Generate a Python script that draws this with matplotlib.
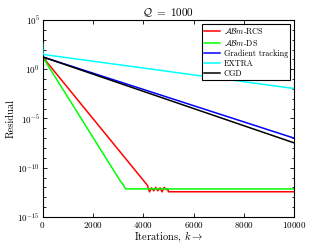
import matplotlib
matplotlib.use("Agg")
import matplotlib.pyplot as plt
import numpy as np

plt.rcParams['font.family'] = 'serif'
plt.rcParams['font.serif'] = ['cmr10']
plt.rcParams['mathtext.fontset'] = 'cm'
plt.rcParams['axes.formatter.use_mathtext'] = True
plt.rcParams['axes.unicode_minus'] = False

# Data (iterations, residual)
rcs_k = [0, 4170, 4250, 4330, 4420, 4500, 4580, 4670, 4750, 4830, 4920, 4990, 5000, 10000]
rcs_r = [18, 1.6e-12, 3.5e-13, 9e-13, 4.5e-13, 1e-12, 4.5e-13, 9e-13, 3.5e-13, 1e-12, 6e-13, 6e-13, 3.6e-13, 3.6e-13]

ds_k = [0, 3100, 3200, 3260, 3300, 10000]
ds_r = [18, 4e-12, 2e-12, 1e-12, 7e-13, 7e-13]

gt_k = [0, 10000]
gt_r = [18, 1.0e-7]

ex_k = [0, 15, 10000]
ex_r = [400, 32, 1.1e-2]

cgd_k = [0, 10000]
cgd_r = [18, 3.3e-8]

fig = plt.figure(figsize=(3.25, 2.44), dpi=100)
ax = fig.add_axes([0.131, 0.111, 0.774, 0.807])

ax.semilogy(rcs_k, rcs_r, color='#ff0000', lw=1.1, label=r'$\mathcal{AB}m$-RCS')
ax.semilogy(ds_k, ds_r, color='#00ff00', lw=1.1, label=r'$\mathcal{AB}m$-DS')
ax.semilogy(gt_k, gt_r, color='#0000ff', lw=1.1, label='Gradient tracking')
ax.semilogy(ex_k, ex_r, color='#00ffff', lw=1.1, label='EXTRA', zorder=3)
ax.semilogy(cgd_k, cgd_r, color='#000000', lw=1.1, label='CGD')

ax.set_xlim(0, 10000)
ax.set_ylim(1e-15, 1e5)
ax.set_xticks([0, 2000, 4000, 6000, 8000, 10000])
ax.set_yticks([1e-15, 1e-10, 1e-5, 1e0, 1e5])
ax.yaxis.set_minor_locator(matplotlib.ticker.FixedLocator([10.0**p for p in range(-15, 6)]))
ax.yaxis.set_minor_formatter(matplotlib.ticker.NullFormatter())
ax.tick_params(which='both', direction='in', top=True, right=True, labelsize=6.5, width=0.6, pad=2)
ax.tick_params(which='major', length=3)
ax.tick_params(which='minor', length=1.8)
for s in ax.spines.values():
    s.set_linewidth(0.8)

ax.set_xlabel(r'Iterations, $k \rightarrow$', fontsize=7.5, labelpad=0)
ax.set_ylabel('Residual', fontsize=7.5, labelpad=1)
ax.set_title(r'$\mathcal{Q}\ =\ 1000$', fontsize=8, pad=3)

leg = ax.legend(loc='upper right', fontsize=5.9, fancybox=False, framealpha=1,
                edgecolor='black', borderpad=0.3, labelspacing=0.2, handlelength=2.0,
                handletextpad=0.4, borderaxespad=0.45)
leg.get_frame().set_linewidth(0.8)

fig.savefig('out.png', dpi=100)
